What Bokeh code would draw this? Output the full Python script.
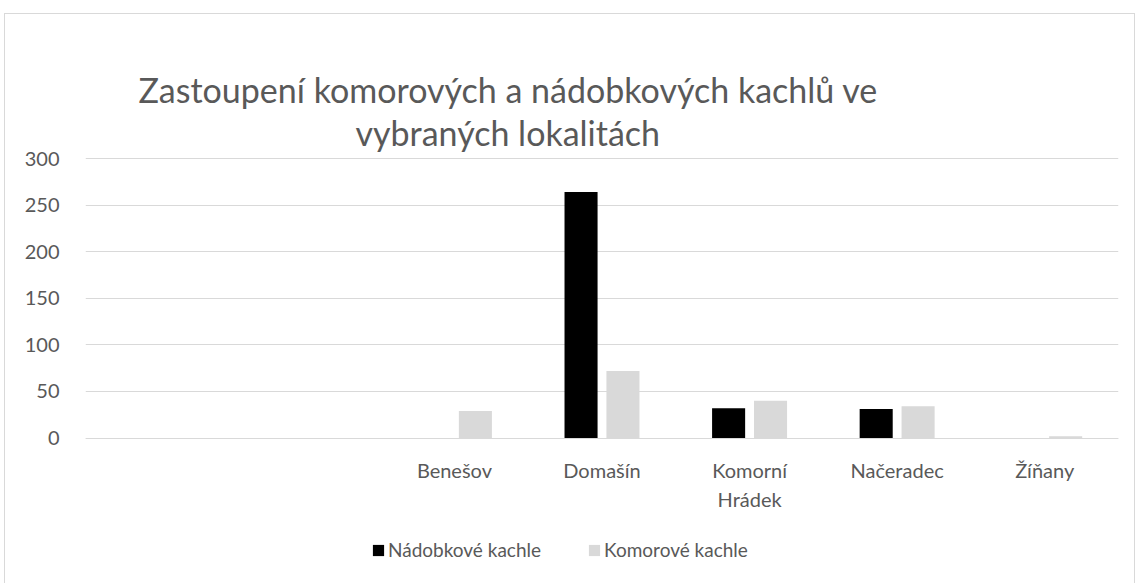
from bokeh.plotting import figure
from bokeh.models import (ColumnDataSource, Range1d, FixedTicker, Title, Legend, LegendItem,
                          LinearAxis)
from bokeh.transform import dodge
from bokeh.embed import file_html
from bokeh.resources import INLINE

# ---- data ----
categories = ["", "", "Benešov", "Domašín", "Komorní\nHrádek", "Načeradec", "Žíňany"]
nadobkove = [0, 0, 0, 264, 32, 31, 0]
komorove = [0, 0, 29, 72, 40, 34, 2]
y_ticks = [0, 50, 100, 150, 200, 250, 300]
title_lines = ["Zastoupení komorových a nádobkových kachlů ve", "vybraných lokalitách"]
series_names = ["Nádobkové kachle", "Komorové kachle"]

FONT = "Lato"
TXT = "#595959"
GRID = "#d9d9d9"

# layout: the frame runs from the 300 gridline down to the bottom edge; the
# category axis sits at value 0, the legend below it inside the frame.
W, H = 1131, 580
TOP, LEFT, RIGHT = 143, 80, 18
K = 300 / 279.5                     # value units per pixel
y_end = 300 + 1 * K
y_start = -(H - TOP - 1 - 279.5) * K

xs = [i + 0.5 for i in range(len(categories))]
src = ColumnDataSource(dict(x=xs, a=nadobkove, b=komorove))

p = figure(width=W, height=H, output_backend="svg", toolbar_location=None,
           x_range=Range1d(0, len(categories)), y_range=Range1d(y_start, y_end),
           min_border_left=LEFT, min_border_right=RIGHT, min_border_top=TOP, min_border_bottom=0,
           x_axis_location=None,
           styles={"margin-left": "4px", "margin-top": "13px", "border": "1px solid #d9d9d9"})
p.outline_line_color = None
p.background_fill_color = "white"
p.border_fill_color = "white"

r1 = p.vbar(x=dodge("x", -0.142, range=p.x_range), top="a", width=0.224, source=src,
            fill_color="black", line_color=None)
r2 = p.vbar(x=dodge("x", 0.142, range=p.x_range), top="b", width=0.224, source=src,
            fill_color=GRID, line_color=None)

# value axis
p.xgrid.visible = False
p.ygrid.ticker = FixedTicker(ticks=y_ticks)
p.ygrid.grid_line_color = GRID
p.ygrid.grid_line_width = 1
p.yaxis.ticker = FixedTicker(ticks=y_ticks)
p.yaxis.axis_line_color = None
p.yaxis.major_tick_line_color = None
p.yaxis.minor_tick_line_color = None
p.yaxis.major_label_standoff = 20
p.yaxis.major_label_text_font = FONT
p.yaxis.major_label_text_font_size = "20px"
p.yaxis.major_label_text_color = TXT

# category axis fixed at value 0
xaxis = LinearAxis(fixed_location=0)
xaxis.ticker = FixedTicker(ticks=xs)
xaxis.major_label_overrides = {x: c for x, c in zip(xs, categories)}
xaxis.axis_line_color = GRID
xaxis.major_tick_line_color = None
xaxis.minor_tick_line_color = None
xaxis.major_label_standoff = 14
xaxis.major_label_text_font = FONT
xaxis.major_label_text_font_size = "20px"
xaxis.major_label_text_color = TXT
p.add_layout(xaxis, "below")

# title: two lines, the later-added one sits higher
p.add_layout(Title(text=title_lines[1], align="left", offset=270, text_font=FONT,
                   text_font_size="34px", text_font_style="normal", text_color=TXT,
                   standoff=9), "above")
p.add_layout(Title(text=title_lines[0], align="left", offset=53, text_font=FONT,
                   text_font_size="34px", text_font_style="normal", text_color=TXT,
                   standoff=-9), "above")

# legend inside the frame, under the category labels
legend = Legend(items=[LegendItem(label=series_names[0], renderers=[r1]),
                       LegendItem(label=series_names[1], renderers=[r2])],
                location=(286, 33), orientation="horizontal",
                glyph_width=14, glyph_height=14, label_standoff=3, spacing=46,
                padding=0, margin=0, border_line_color=None, background_fill_alpha=0,
                label_text_font=FONT, label_text_font_size="19px", label_text_color=TXT)
p.add_layout(legend, "center")

open("out.html", "w").write(file_html(p, INLINE))
